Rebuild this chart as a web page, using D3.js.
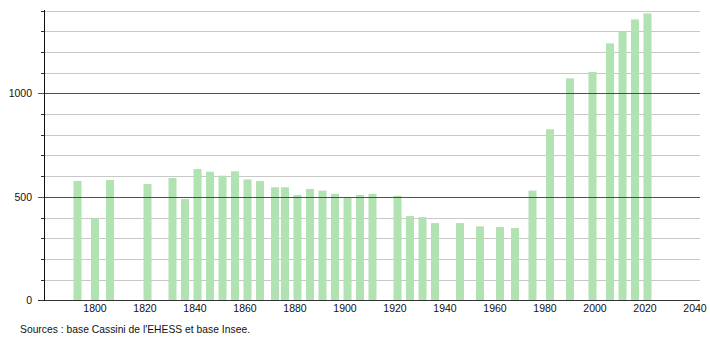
<!DOCTYPE html>
<html>
<head>
<meta charset="utf-8">
<script src="https://cdn.jsdelivr.net/npm/d3@7"></script>
<style>
  body { margin: 0; background: #fff; }
  svg text { font-family: "Liberation Sans", Arial, sans-serif; fill: #111; }
</style>
</head>
<body>
<div id="chart"></div>
<script>
const years = [1793, 1800, 1806, 1821, 1831, 1836, 1841, 1846, 1851, 1856,
  1861, 1866, 1872, 1876, 1881, 1886, 1891, 1896, 1901, 1906,
  1911, 1921, 1926, 1931, 1936, 1946, 1954, 1962, 1968, 1975,
  1982, 1990, 1999, 2006, 2011, 2016, 2021];
const population = [577, 396, 581, 562, 591, 489, 634, 621, 602, 623,
  584, 576, 546, 546, 509, 538, 530, 514, 498, 509,
  514, 505, 407, 402, 373, 373, 357, 354, 349, 530,
  826, 1072, 1103, 1241, 1298, 1357, 1386];
const xTicks = [1800, 1820, 1840, 1860, 1880, 1900, 1920, 1940, 1960, 1980, 2000, 2020, 2040];
const yMajor = [0, 500, 1000];
const yMinor = d3.range(100, 1401, 100).filter(v => v % 500 !== 0);
const source = "Sources : base Cassini de l'EHESS et base Insee.";

const width = 710, height = 340;
const svg = d3.select("#chart").append("svg")
  .attr("width", width).attr("height", height);

const x = d3.scaleLinear().domain([1779.6, 2042]).range([44, 700]);
const y = d3.scaleLinear().domain([0, 1400]).range([300.3, 10.5]);

// grid
svg.append("g").selectAll("line").data(yMinor).join("line")
  .attr("x1", 44).attr("x2", 700)
  .attr("y1", d => Math.round(y(d)) + 0.5).attr("y2", d => Math.round(y(d)) + 0.5)
  .attr("stroke", "#c8c8c8");

svg.append("g").selectAll("line").data(yMinor).join("line")
  .attr("x1", 41).attr("x2", 44)
  .attr("y1", d => Math.round(y(d)) + 0.5).attr("y2", d => Math.round(y(d)) + 0.5)
  .attr("stroke", "#333");

// bars
svg.append("g").selectAll("rect").data(years).join("rect")
  .attr("x", d => x(d) - 4)
  .attr("width", 8)
  .attr("y", (d, i) => y(population[i]))
  .attr("height", (d, i) => y(0) - y(population[i]))
  .attr("fill", "#b1e2b1");

// major lines
svg.append("g").selectAll("line").data(yMajor).join("line")
  .attr("x1", 38).attr("x2", 700)
  .attr("y1", d => Math.round(y(d)) + 0.5).attr("y2", d => Math.round(y(d)) + 0.5)
  .attr("stroke", "#333")
  .attr("stroke-opacity", d => d === 0 ? 1 : 0.85);

// y axis line
svg.append("line")
  .attr("x1", 44.5).attr("x2", 44.5)
  .attr("y1", 10).attr("y2", 301)
  .attr("stroke", "#111");

svg.append("g").selectAll("text").data(yMajor).join("text")
  .attr("x", 32).attr("y", d => y(d) + 4)
  .attr("text-anchor", "end")
  .attr("font-size", 10.5)
  .text(d => d);

svg.append("g").selectAll("text").data(xTicks).join("text")
  .attr("x", d => x(d)).attr("y", 312)
  .attr("text-anchor", "middle")
  .attr("font-size", 10.5)
  .text(d => d);

svg.append("text")
  .attr("x", 20).attr("y", 333)
  .attr("font-size", 10.3)
  .attr("textLength", 230)
  .text(source);
</script>
</body>
</html>
